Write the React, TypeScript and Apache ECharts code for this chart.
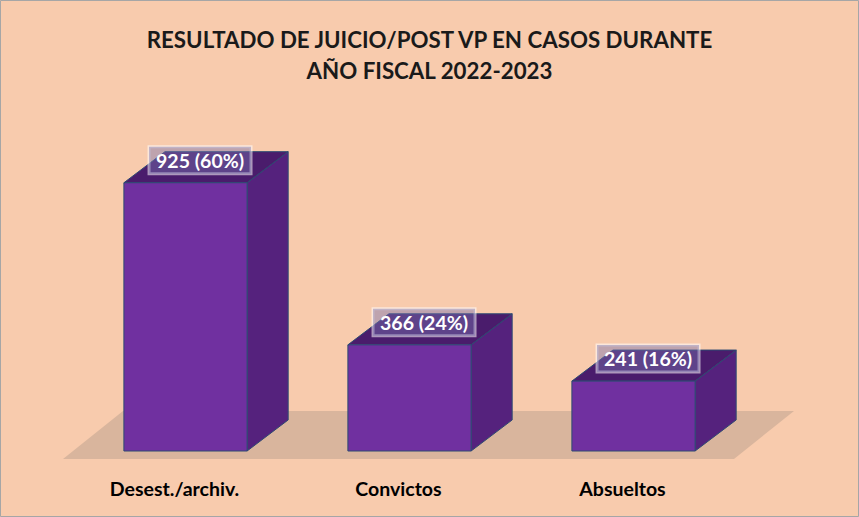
import React, { useEffect, useRef } from "react";
import * as echarts from "echarts";

const categories = ["Desest./archiv.", "Convictos", "Absueltos"];
const values = [925, 366, 241];
const titleLines = ["RESULTADO DE JUICIO/POST VP EN CASOS DURANTE", "AÑO FISCAL 2022-2023"];

const total = values.reduce((a, b) => a + b, 0);

export default function App() {
  const ref = useRef<HTMLDivElement>(null);
  useEffect(() => {
    if (!ref.current) return;
    const chart = echarts.init(ref.current, null, { renderer: "svg" });
    const font = "Lato, 'Open Sans', sans-serif";
    chart.setOption({
      animation: false,
      backgroundColor: "#F8CBAD",
      title: {
        text: titleLines.join("\n"),
        left: "center",
        top: 19,
        textStyle: { fontFamily: font, fontSize: 22.3, fontWeight: "bold", color: "#1a1a1a", lineHeight: 31 },
      },
      graphic: [
        {
          type: "rect",
          shape: { x: 0.5, y: 0.5, width: 858, height: 516 },
          style: { fill: "none", stroke: "#a6a6a6", lineWidth: 1 },
          silent: true,
        },
      ],
      grid: { left: 73.5, right: 113.5, top: 161, bottom: 66 },
      xAxis: {
        type: "category",
        data: categories,
        axisLine: { show: false },
        axisTick: { show: false },
        axisLabel: {
          margin: 27,
          fontFamily: font,
          fontSize: 19.5,
          fontWeight: "bold",
          color: "#000",
          padding: [0, 22, 0, 0],
        },
      },
      yAxis: { type: "value", min: 0, max: 1000, show: false, splitLine: { show: false } },
      series: [
        {
          type: "custom",
          z: 1,
          data: [[0, 0]],
          encode: { x: 0, y: 1 },
          renderItem: (params: any, api: any) => {
            const cs = params.coordSys;
            const fy = cs.y + cs.height + 8;
            const fl = cs.x - 10.5;
            const fr = cs.x + cs.width - 11.5;
            const ddx = 60, ddy = -48;
            return {
              type: "polygon",
              shape: { points: [[fl, fy], [fr, fy], [fr + ddx, fy + ddy], [fl + ddx, fy + ddy]] },
              style: { fill: "#D9B59D" },
              silent: true,
            };
          },
        },
        {
          type: "custom",
          z: 2,
          data: values.map((v, i) => [i, v]),
          encode: { x: 0, y: 1 },
          renderItem: (params: any, api: any) => {
            const idx = api.value(0);
            const val = api.value(1);
            const top = api.coord([idx, val]);
            const base = api.coord([idx, 0]);
            const bw = api.size([1, 0])[0] * 0.55;
            const x0 = top[0] - bw / 2, x1 = top[0] + bw / 2;
            const yt = top[1], yb = base[1];
            const dx = (bw * 41) / 123, dy = (-bw * 31) / 123;
            const edge = "#2D4A72";
            const pct = Math.round((values[params.dataIndex] / total) * 100);
            return {
              type: "group",
              children: [
                {
                  type: "polygon",
                  shape: { points: [[x1, yt], [x1 + dx, yt + dy], [x1 + dx, yb + dy], [x1, yb]] },
                  style: { fill: "#55227D", stroke: edge, lineWidth: 1 },
                },
                {
                  type: "polygon",
                  shape: { points: [[x0, yt], [x0 + dx, yt + dy], [x1 + dx, yt + dy], [x1, yt]] },
                  style: { fill: "#4A1C6C", stroke: edge, lineWidth: 1 },
                },
                {
                  type: "rect",
                  shape: { x: x0, y: yt, width: bw, height: yb - yt },
                  style: { fill: "#7030A0", stroke: edge, lineWidth: 1 },
                },
                {
                  type: "text",
                  x: (x0 + x1 + dx) / 2 - 6,
                  y: yt + dy / 2 - 7,
                  style: {
                    text: `${values[params.dataIndex]} (${pct}%)`,
                    fontFamily: font,
                    fontSize: 19.5,
                    fontWeight: "bold",
                    fill: "#ffffff",
                    align: "center",
                    verticalAlign: "middle",
                    backgroundColor: "rgba(120,115,175,0.45)",
                    borderColor: "rgba(255,255,255,0.55)",
                    borderWidth: 1.5,
                    padding: [4, 7, 3, 7],
                  },
                },
              ],
            };
          },
        },
      ],
    });
    return () => chart.dispose();
  }, []);
  return <div ref={ref} style={{ position: "absolute", left: 0, top: 0, width: 859, height: 517 }} />;
}
